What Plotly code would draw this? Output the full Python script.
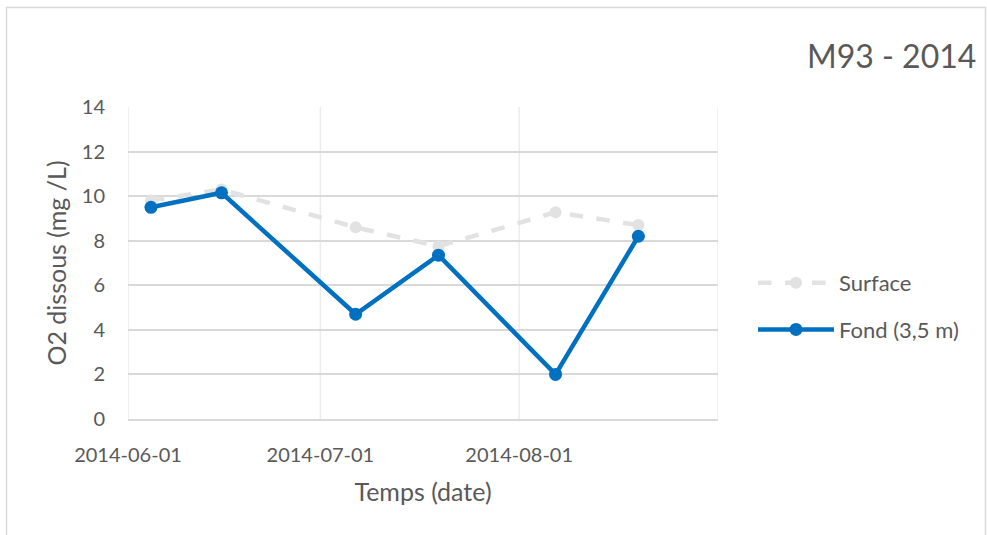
import plotly.graph_objects as go

# Sampling dates and dissolved oxygen (mg/L)
dates = ["2014-06-04 14:00", "2014-06-15 14:00", "2014-07-06 12:00",
         "2014-07-19 10:00", "2014-08-06 16:00", "2014-08-19 14:00"]
surface = [9.8, 10.3, 8.6, 7.75, 9.28, 8.7]
fond = [9.5, 10.15, 4.7, 7.35, 2.0, 8.2]

tick_dates = ["2014-06-01", "2014-07-01", "2014-08-01"]
y_ticks = [0, 2, 4, 6, 8, 10, 12, 14]

FONT = "Lato"
TXT = "#595959"

W, H = 987, 535
L, R, T, B = 128, 718, 107, 419

fig = go.Figure()
fig.add_trace(go.Scatter(
    x=dates, y=surface, name="Surface", mode="lines+markers",
    legendgroup="s",
    line=dict(color="#e2e2e2", width=4.5, dash="dash"),
    marker=dict(color="#e2e2e2", size=12),
))
fig.add_trace(go.Scatter(
    x=dates, y=fond, name="Fond (3,5 m)", mode="lines+markers",
    legendgroup="f",
    line=dict(color="#0070c0", width=4.5),
    marker=dict(color="#0070c0", size=13),
))

def px(x):
    return (x - L) / (R - L)

def py(y):
    return (B - y) / (B - T)

# outer frame of the chart area
fig.add_shape(type="rect", xref="paper", yref="paper",
              x0=px(6.5), x1=px(985.5), y0=py(560), y1=py(7.5),
              line=dict(color="#d9d9d9", width=1.5), layer="below")

# vertical date gridlines (lighter than the horizontal ones)
for d in tick_dates + ["2014-09-01"]:
    fig.add_shape(type="line", xref="x", yref="paper", x0=d, x1=d, y0=0, y1=1,
                  line=dict(color="#ececec", width=1.5), layer="below")

fig.update_layout(
    width=W, height=H,
    margin=dict(l=L, r=W - R, t=T, b=H - B),
    paper_bgcolor="white", plot_bgcolor="white",
    font=dict(family=FONT, color=TXT, size=20),
    showlegend=True,
    legend=dict(x=px(753), y=py(262), xanchor="left", yanchor="top",
                font=dict(size=22, color=TXT), tracegroupgap=15,
                itemwidth=76, traceorder="grouped", bgcolor="rgba(0,0,0,0)"),
    annotations=[
        dict(text="M93 - 2014", xref="paper", yref="paper",
             x=px(978), y=py(56), xanchor="right", yanchor="middle",
             showarrow=False, font=dict(size=32, color=TXT)),
    ],
)

fig.update_xaxes(
    type="date", range=["2014-06-01", "2014-09-01"],
    tickvals=tick_dates, ticktext=tick_dates,
    showgrid=False, zeroline=False,
    showline=True, linecolor="#d9d9d9", linewidth=2,
    ticks="", ticklen=0, ticklabelstandoff=17,
    tickfont=dict(size=20, color=TXT),
    title=dict(text="Temps (date)", font=dict(size=25, color=TXT), standoff=18),
)
fig.update_yaxes(
    range=[0, 14], tickvals=y_ticks,
    showgrid=True, gridcolor="#d9d9d9", gridwidth=1.5,
    zeroline=False, showline=False, ticks="", ticklabelstandoff=22,
    tickfont=dict(size=20, color=TXT),
    title=dict(text="O2 dissous (mg /L)", font=dict(size=25, color=TXT), standoff=8),
)

fig.write_html("out.html")
